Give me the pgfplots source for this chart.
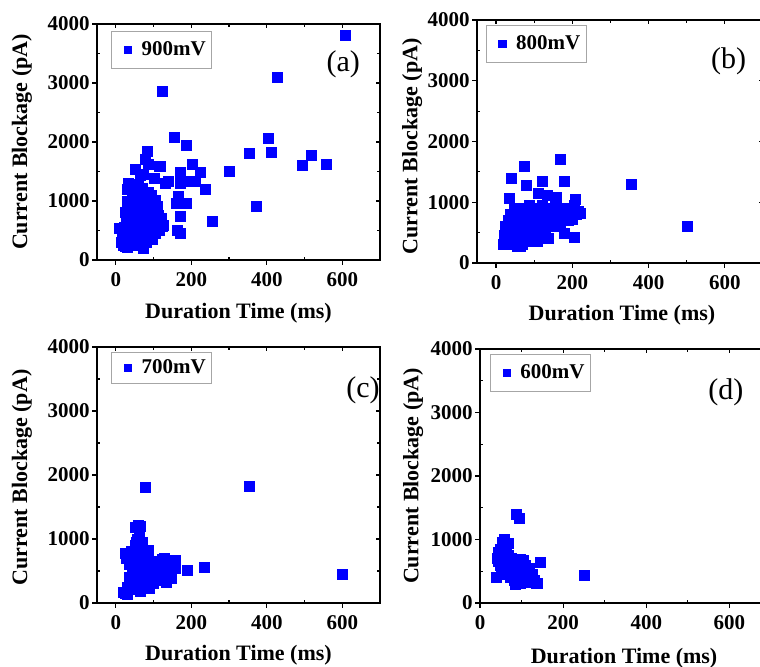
\documentclass[border=0pt]{standalone}
\usepackage{fontspec}
\setmainfont{Liberation Serif}
\usepackage{pgfplots}
\pgfplotsset{compat=1.18}

% 1 px of the reference = 0.5pt
\pgfplotsset{
  panel/.style={
    scale only axis, anchor=south west,
    xmin=-50, xmax=700, ymin=0, ymax=4000,
    xtick={0,200,400,600}, ytick={0,1000,2000,3000,4000},
    axis line style={line width=0.8pt},
    tick style={black, line width=0.6pt},
    /pgf/number format/1000 sep={},
    /pgf/number format/assume math mode=true,
    ticklabel style={font=\fontsize{10.5}{12}\selectfont\bfseries},
    yticklabel style={inner xsep=1pt},
  },
  outer/.style={panel, tick pos=left, tick align=outside,
    minor tick num=0, major tick length=2.5pt,
    xlabel={Duration Time (ms)}, ylabel={Current Blockage (pA)},
    label style={font=\fontsize{11}{13}\selectfont\bfseries},
    xlabel style={anchor=center},
    ylabel style={anchor=center},
    legend style={anchor=north west, draw=black!35, line width=0.6pt,
      font=\fontsize{10.5}{12}\selectfont\bfseries,
      inner xsep=1pt, inner ysep=3pt},
    legend image code/.code={%
      \path[draw=none, fill=none] (0cm,0cm) -- (0.42cm,0cm);
      \draw[##1, mark size=1.8pt] plot coordinates {(0.25cm,0cm)};},
  },
  dots/.style={only marks, mark=square*, mark size=2.5pt, color=blue},
  inrt/.style={panel, tick pos=right, tick align=inside, minor tick num=1,
    major tick length=2pt, minor tick length=1.5pt,
    xticklabels={}, yticklabels={}},
  inlb/.style={panel, tick pos=left, tick align=inside, minor tick num=1,
    major tick length=0pt, minor tick length=1.5pt,
    xticklabels={}, yticklabels={}},
}

% inward ticks on the frame: #1 x, #2 y, #3 width, #4 height, #5 xmin
\newcommand{\frameticks}[5]{%
  \begin{axis}[inrt, at={(#1,#2)}, width=#3, height=#4, xmin=#5]\end{axis}
  \begin{axis}[inlb, at={(#1,#2)}, width=#3, height=#4, xmin=#5]\end{axis}
}

\begin{document}
\begin{tikzpicture}
\path[use as bounding box] (0,0) rectangle (380pt,-333.5pt);
\clip (0,0) rectangle (380pt,-333.5pt);

% (a) 900 mV
\begin{axis}[outer, at={(48.5pt,-130pt)}, width=141.5pt, height=118pt,
  xlabel style={at={(axis description cs:0.5,-0.225)}},
  ylabel style={at={(axis description cs:-0.265,0.5)}},
  legend style={at={(0.05,0.97)}}]
\addplot[dots] coordinates {
 (609,3801) (428,3092) (124,2865) (156,2082) (187,1946) (404,2054) (411,1827)
 (355,1799) (519,1770) (494,1606) (559,1623) (300,1509) (203,1623) (225,1481)
 (238,1203) (170,1481) (170,1305) (188,1333) (212,1333) (139,1333) (130,1299)
 (119,1589) (101,1390) (84,1844) (78,1713) (86,1617) (73,1447) (51,1538)
 (35,1277) (31,1191) (166,1078) (161,953) (187,965) (172,738) (163,499)
 (172,454) (256,652) (373,908) (9,539) (116,1582) (65,1441) (70,1215)
 (87,1102) (105,1017) (123,565)
 (15,300) (20,250) (25,400) (22,550) (30,220) (35,350) (28,650) (33,480)
 (38,700) (40,280) (42,600) (45,450) (48,800) (50,350) (52,950) (55,550)
 (57,700) (58,1100) (60,400) (62,850) (65,250) (65,600) (68,1000) (70,500)
 (72,750) (75,350) (75,1150) (78,900) (80,600) (82,450) (85,800) (88,1050)
 (90,650) (92,500) (95,900) (98,700) (100,550) (102,800) (105,450) (108,650)
 (110,550) (112,750) (115,500) (118,600) (18,450) (28,300) (45,250) (55,1200)
 (60,1250) (48,1000) (40,900) (35,750) (70,1200) (85,1150) (95,1100) (100,950)
 (62,320) (80,300) (90,400) (105,1000) (25,800) (30,1000) (45,1150) (50,500)
 (67,450) (73,200) (87,600) (97,350) (110,900) (120,700) (125,580) (26,225)
 (61,283) (34,1300)
};
\addlegendentry{900mV\hspace{11pt}}
\node[font=\fontsize{15}{17}\selectfont] at (rel axis cs:0.87,0.83) {(a)};
\end{axis}
\frameticks{48.5pt}{-130pt}{141.5pt}{118pt}{-50}

% (b) 800 mV
\begin{axis}[outer, at={(238.5pt,-131.5pt)}, width=143pt, height=121.5pt,
  xlabel style={at={(axis description cs:0.507,-0.214)}},
  ylabel style={at={(axis description cs:-0.227,0.48)}},
  legend style={at={(0.03,0.98)}}]
\addplot[dots] coordinates {
 (502,604) (354,1291) (168,1700) (75,1585) (39,1398) (80,1272) (121,1335)
 (179,1343) (36,1068) (112,1151) (209,1041) (222,821) (180,492) (206,423)
 (136,401) (108,354) (26,324) (65,269) (135,1120) (157,1082)
 (20,300) (22,450) (25,600) (28,380) (30,520) (32,700) (35,300) (38,800)
 (40,450) (42,600) (45,350) (48,900) (50,500) (52,700) (55,280) (58,850)
 (60,400) (62,600) (65,750) (68,300) (70,900) (72,500) (75,650) (78,800)
 (80,400) (85,550) (88,950) (90,700) (95,600) (98,850) (100,480) (105,750)
 (108,900) (110,600) (115,800) (120,550) (122,950) (125,700) (130,850)
 (135,650) (140,800) (145,900) (148,600) (150,750) (155,950) (160,700)
 (165,850) (170,780) (175,700) (180,900) (185,750) (190,700) (195,850)
 (200,720) (205,950) (210,800) (215,850) (60,300) (90,350) (130,500)
 (170,600) (45,650)
};
\addlegendentry{800mV\hspace{11pt}}
\node[font=\fontsize{15}{17}\selectfont] at (rel axis cs:0.88,0.83) {(b)};
\end{axis}
\frameticks{238.5pt}{-131.5pt}{143pt}{121.5pt}{-50}

% (c) 700 mV
\begin{axis}[outer, at={(48.5pt,-301.5pt)}, width=141.5pt, height=128pt,
  xlabel style={at={(axis description cs:0.5,-0.203)}},
  ylabel style={at={(axis description cs:-0.265,0.49)}},
  legend style={at={(0.05,0.98)}, inner ysep=1.5pt}]
\addplot[dots] coordinates {
 (78,1803) (355,1829) (600,442) (234,554) (190,512) (146,388) (159,672)
 (159,545) (124,686) (104,468) (66,1200) (52,1183) (57,961) (20,170)
 (31,135) (88,229) (84,828) (26,776)
 (25,150) (30,250) (28,700) (32,780) (35,400) (38,600) (40,800) (42,300)
 (45,500) (48,700) (50,220) (52,900) (55,600) (57,1000) (58,400) (60,750)
 (62,300) (63,1100) (65,550) (68,850) (70,250) (72,650) (75,450) (78,750)
 (80,350) (82,550) (85,820) (90,600) (92,400) (95,500) (100,650) (105,350)
 (110,550) (115,450) (120,650) (125,380) (128,700) (130,550) (135,320)
 (140,600) (150,550) (155,650) (60,1220) (55,950) (35,600) (45,350) (70,950)
 (100,300) (115,600) (35,700) (65,180) (50,450)
};
\addlegendentry{700mV\hspace{7pt}}
\node[font=\fontsize{15}{17}\selectfont] at (rel axis cs:0.94,0.83) {(c)};
\end{axis}
\frameticks{48.5pt}{-301.5pt}{141.5pt}{128pt}{-50}

% (d) 600 mV
\begin{axis}[outer, at={(240pt,-301.5pt)}, width=145.5pt, height=127pt,
  xmin=0,
  xlabel style={at={(axis description cs:0.495,-0.217)}},
  ylabel style={at={(axis description cs:-0.23,0.5)}},
  legend style={at={(0.034,0.98)}}]
\addplot[dots] coordinates {
 (251,430) (146,640) (137,315) (87,1389) (95,1337) (39,404) (58,996)
 (68,944) (93,325) (113,393) (48,835) (96,310) (104,677)
 (42,700) (45,800) (48,600) (50,850) (52,500) (55,950) (55,700) (58,1000)
 (60,650) (62,550) (64,900) (65,450) (68,750) (70,600) (72,400) (75,700)
 (78,500) (80,650) (82,350) (85,550) (88,450) (90,600) (92,320) (95,500)
 (98,680) (100,400) (102,550) (105,450) (108,600) (110,380) (115,500)
 (118,420) (120,550) (125,450) (130,350) (135,310) (45,650) (50,750)
 (60,800) (70,500) (85,300) (115,330)
};
\addlegendentry{600mV\hspace{11pt}}
\node[font=\fontsize{15}{17}\selectfont] at (rel axis cs:0.845,0.83) {(d)};
\end{axis}
\frameticks{240pt}{-301.5pt}{145.5pt}{127pt}{0}

\end{tikzpicture}
\end{document}
